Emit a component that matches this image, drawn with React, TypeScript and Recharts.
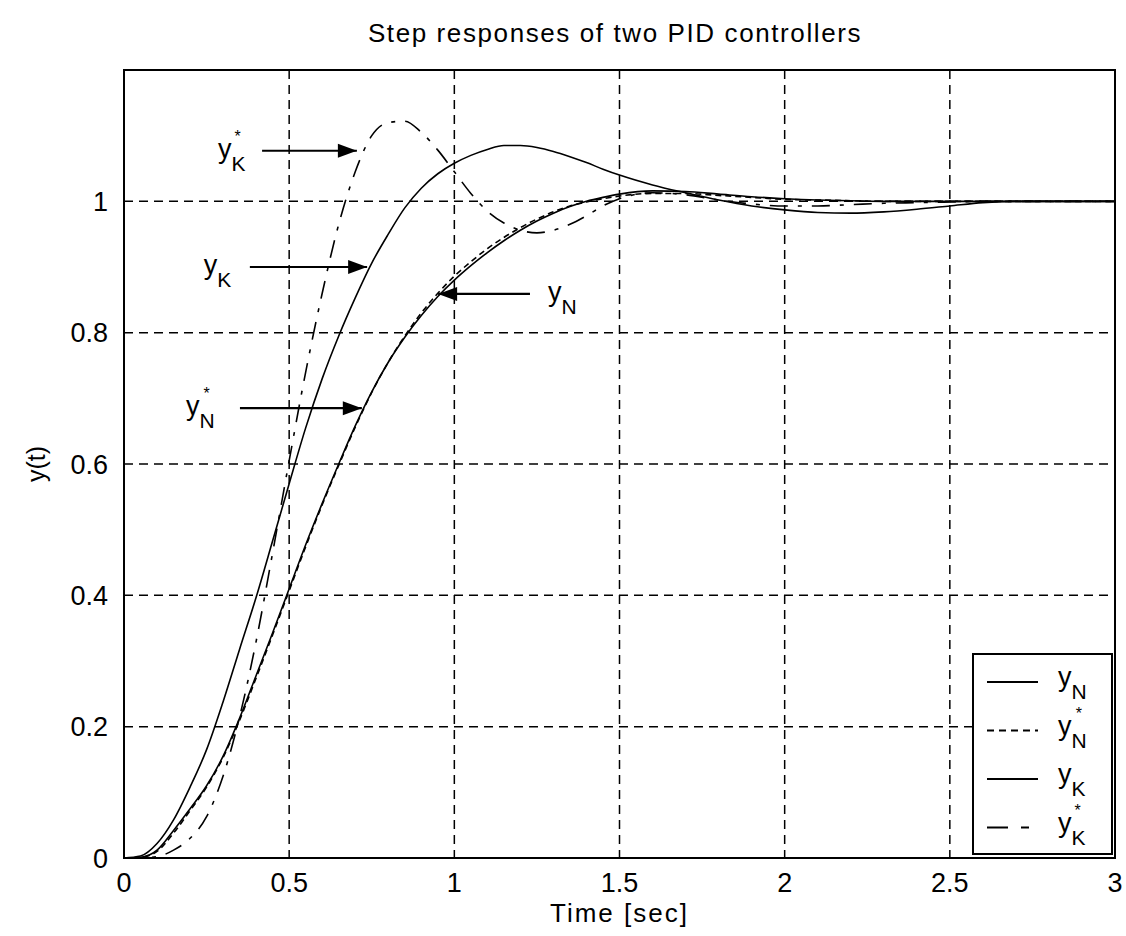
import { LineChart, Line, XAxis, YAxis, CartesianGrid, Legend, ReferenceArea } from 'recharts';

// time axis shared by all four step responses
const time = [
  0, 0.05, 0.1, 0.15, 0.2, 0.25, 0.3, 0.35, 0.4, 0.45, 0.5, 0.55, 0.6, 0.65, 0.7, 0.75,
  0.8, 0.85, 0.9, 0.95, 1.0, 1.05, 1.1, 1.15, 1.2, 1.25, 1.3, 1.35, 1.4, 1.45, 1.5,
  1.6, 1.7, 1.8, 1.9, 2.0, 2.1, 2.2, 2.3, 2.4, 2.5, 2.6, 2.7, 2.8, 2.9, 3.0,
];

const yN = [
  0, 0.001, 0.012, 0.042, 0.075, 0.11, 0.155, 0.213, 0.278, 0.343, 0.41, 0.477, 0.54, 0.6, 0.658, 0.71,
  0.755, 0.793, 0.826, 0.855, 0.88, 0.902, 0.922, 0.94, 0.956, 0.97, 0.982, 0.992, 1.0, 1.006, 1.011,
  1.016, 1.015, 1.011, 1.007, 1.004, 1.002, 1.001, 1.0, 1.0, 1.0, 1.0, 1.0, 1.0, 1.0, 1.0,
];

const yNstar = [
  0, 0.001, 0.01, 0.038, 0.072, 0.108, 0.153, 0.21, 0.274, 0.34, 0.407, 0.474, 0.538, 0.598, 0.656, 0.709,
  0.755, 0.795, 0.83, 0.86, 0.886, 0.908, 0.928, 0.945, 0.96, 0.973, 0.984, 0.993, 0.999, 1.004, 1.008,
  1.012, 1.012, 1.009, 1.006, 1.003, 1.002, 1.001, 1.0, 1.0, 1.0, 1.0, 1.0, 1.0, 1.0, 1.0,
];

const yK = [
  0, 0.003, 0.022, 0.058, 0.108, 0.165, 0.238, 0.318, 0.397, 0.483, 0.57, 0.655, 0.73, 0.795, 0.853, 0.906,
  0.95, 0.99, 1.02, 1.042, 1.058, 1.07, 1.079, 1.085, 1.085, 1.082, 1.076, 1.068, 1.059, 1.049, 1.04,
  1.025, 1.013, 1.002, 0.993, 0.987, 0.983, 0.982, 0.984, 0.988, 0.993, 0.998, 1.0, 1.0, 1.0, 1.0,
];

const yKstar = [
  0, 0, 0.002, 0.012, 0.03, 0.063, 0.125, 0.215, 0.33, 0.465, 0.605, 0.74, 0.86, 0.965, 1.045, 1.1,
  1.12, 1.122, 1.105, 1.078, 1.045, 1.012, 0.985, 0.967, 0.956, 0.952, 0.956, 0.965, 0.978, 0.993, 1.004,
  1.013, 1.01, 1.002, 0.996, 0.993, 0.993, 0.995, 0.997, 0.998, 0.999, 1.0, 1.0, 1.0, 1.0, 1.0,
];

const xTicks = [0, 0.5, 1, 1.5, 2, 2.5, 3];
const yTicks = [0, 0.2, 0.4, 0.6, 0.8, 1];

// arrow annotations: subscript, star, arrow height, tail x, head x
const annoSub = ['K', 'K', 'N', 'N'];
const annoStar = [true, false, false, true];
const annoY = [1.077, 0.9, 0.859, 0.685];
const annoFrom = [0.418, 0.381, 1.229, 0.351];
const annoTo = [0.705, 0.736, 0.951, 0.72];
const annoGap = [15, 17, 18, 25];

const legendLabels = [
  { sub: 'N', star: false, dash: undefined },
  { sub: 'N', star: true, dash: '7 5' },
  { sub: 'K', star: false, dash: undefined },
  { sub: 'K', star: true, dash: '21 13 8 13' },
];

const FONT = '"Liberation Sans", Arial, Helvetica, sans-serif';

const rows = time.map((t, i) => ({ t, yN: yN[i], yNstar: yNstar[i], yK: yK[i], yKstar: yKstar[i] }));

// "y" with a subscript and an optional star, all in one text element
const SubLabel = ({ x, y, sub, star }: { x: number; y: number; sub: string; star: boolean }) => (
  <text x={x} y={y} fontFamily={FONT} fontSize={27} fill="#000">
    y
    <tspan fontSize={21} dy={13}>{sub}</tspan>
    {star && (
      <tspan fontSize={16} dx={-11} dy={-29}>*</tspan>
    )}
  </text>
);

const makeArrowDot = (i: number) => (props: any) => {
  const { cx, cy, index } = props;
  const dir = annoTo[i] > annoFrom[i] ? 1 : -1;
  if (index === 1) {
    const pts = `${cx},${cy} ${cx - dir * 19},${cy - 7} ${cx - dir * 19},${cy + 7}`;
    return <polygon key={`h${i}`} points={pts} fill="#000" />;
  }
  const labelWidth = 29;
  const x = dir === 1 ? cx - annoGap[i] - labelWidth : cx + annoGap[i];
  return (
    <g key={`l${i}`}>
      <SubLabel x={x} y={cy + 7} sub={annoSub[i]} star={annoStar[i]} />
    </g>
  );
};

const renderLegend = () => (
  <svg width={141} height={202} style={{ display: 'block' }}>
    <rect x={1} y={1} width={139} height={200} fill="#fff" stroke="#000" strokeWidth={2} />
    {legendLabels.map((l, i) => {
      const cy = 29 + i * 48.5;
      return (
        <g key={i}>
          <line x1={15} x2={66} y1={cy} y2={cy} stroke="#000" strokeWidth={2} strokeDasharray={l.dash} />
          <SubLabel x={86} y={cy + 4} sub={l.sub} star={l.star} />
        </g>
      );
    })}
  </svg>
);

export default function App() {
  return (
    <div style={{ position: 'absolute', left: 0, top: 0, width: 1126, height: 936, background: '#fff' }}>
      <div
        style={{
          position: 'absolute',
          left: 0,
          top: 20,
          width: 1230,
          textAlign: 'center',
          fontFamily: FONT,
          fontSize: 26,
          lineHeight: '26px',
          letterSpacing: 1.6,
          color: '#000',
        }}
      >
        Step responses of two PID controllers
      </div>
      <LineChart width={1126} height={936} data={rows} margin={{ top: 70, right: 11, bottom: 0, left: 0 }}>
        <CartesianGrid stroke="#000" strokeWidth={1.5} strokeDasharray="9 6" />
        <XAxis
          dataKey="t"
          type="number"
          domain={[0, 3]}
          ticks={xTicks}
          height={78}
          tickSize={0}
          tickMargin={15}
          axisLine={{ stroke: '#000', strokeWidth: 2 }}
          tick={{ fill: '#000', fontSize: 27, fontFamily: FONT }}
          tickFormatter={(v) => String(v)}
          label={{
            content: ({ viewBox }: any) => (
              <text x={viewBox.x + viewBox.width / 2} y={viewBox.y + 64} textAnchor="middle" fontFamily={FONT} fontSize={26} letterSpacing={2} fill="#000">
                Time [sec]
              </text>
            ),
          }}
        />
        <YAxis
          type="number"
          domain={[0, 1.2]}
          ticks={yTicks}
          width={124}
          tickSize={0}
          tickMargin={16}
          axisLine={{ stroke: '#000', strokeWidth: 2 }}
          tick={{ fill: '#000', fontSize: 27, fontFamily: FONT }}
          tickFormatter={(v) => String(v)}
          label={{
            content: ({ viewBox }: any) => {
              const cy = viewBox.y + viewBox.height / 2;
              return (
                <text x={36} y={cy} transform={`rotate(-90 36 ${cy})`} textAnchor="middle" dominantBaseline="central" fontFamily={FONT} fontSize={25} fill="#000">
                  y(t)
                </text>
              );
            },
          }}
        />
        <ReferenceArea x1={0} x2={3} y1={0} y2={1.2} fill="none" stroke="#000" strokeWidth={2} ifOverflow="visible" />
        <Legend
          layout="horizontal"
          verticalAlign="middle"
          align="center"
          content={renderLegend}
          wrapperStyle={{ position: 'absolute', left: 972, top: 653, width: 141, height: 202 }}
        />
        <Line dataKey="yN" type="monotone" stroke="#000" strokeWidth={1.6} dot={false} isAnimationActive={false} />
        <Line dataKey="yNstar" type="monotone" stroke="#000" strokeWidth={1.6} strokeDasharray="6 4" dot={false} isAnimationActive={false} />
        <Line dataKey="yK" type="monotone" stroke="#000" strokeWidth={1.6} dot={false} isAnimationActive={false} />
        <Line dataKey="yKstar" type="monotone" stroke="#000" strokeWidth={1.6} strokeDasharray="18 10 4 10" dot={false} isAnimationActive={false} />
        {annoY.map((y, i) => (
          <Line
            key={`arrow${i}`}
            data={[{ t: annoFrom[i], v: y }, { t: annoTo[i], v: y }]}
            dataKey="v"
            type="linear"
            stroke="#000"
            strokeWidth={2.2}
            dot={makeArrowDot(i)}
            activeDot={false}
            legendType="none"
            isAnimationActive={false}
          />
        ))}
      </LineChart>
    </div>
  );
}
